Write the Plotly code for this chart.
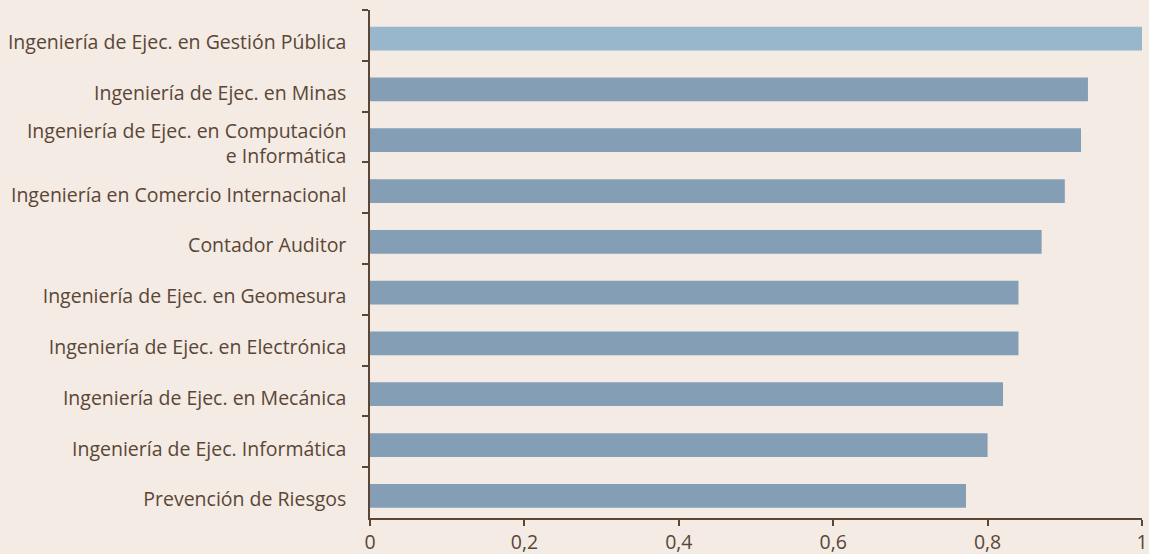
import plotly.graph_objects as go

carreras = [
    'Ingeniería de Ejec. en Gestión Pública',
    'Ingeniería de Ejec. en Minas',
    'Ingeniería de Ejec. en Computación<br>e Informática',
    'Ingeniería en Comercio Internacional',
    'Contador Auditor',
    'Ingeniería de Ejec. en Geomesura',
    'Ingeniería de Ejec. en Electrónica',
    'Ingeniería de Ejec. en Mecánica',
    'Ingeniería de Ejec. Informática',
    'Prevención de Riesgos',
]
valores = [1.0, 0.93, 0.921, 0.90, 0.870, 0.840, 0.840, 0.820, 0.800, 0.772]

# top bar highlighted
colores = ['#98b6cc'] + ['#849fb5'] * (len(valores) - 1)

TEXT = '#5b4636'
BG = '#f3ebe4'

# bars sit a little below the middle of each band in the original
fig = go.Figure(go.Bar(
    x=valores,
    y=carreras,
    orientation='h',
    width=0.467,
    offset=-0.17,
    marker=dict(color=colores, line=dict(width=0)),
    hoverinfo='x+y',
))

fig.update_layout(
    width=1149,
    height=554,
    paper_bgcolor=BG,
    plot_bgcolor=BG,
    margin=dict(l=370, r=7, t=10, b=36, autoexpand=False),
    separators=',.',
    showlegend=False,
    font=dict(family='Open Sans', size=19.5, color=TEXT),
)

fig.update_xaxes(
    range=[0, 1],
    tickvals=[0, 0.2, 0.4, 0.6, 0.8, 1],
    showgrid=False,
    zeroline=False,
    showline=True,
    linecolor=TEXT,
    linewidth=1.5,
    ticks='outside',
    ticklen=6,
    tickcolor=TEXT,
    tickwidth=1.5,
    tickfont=dict(size=19.5, color=TEXT),
    ticklabeloverflow='allow',
)

fig.update_yaxes(
    autorange='reversed',
    showgrid=False,
    zeroline=False,
    showline=True,
    linecolor=TEXT,
    linewidth=1.5,
    ticks='outside',
    tickson='boundaries',
    ticklen=6,
    tickcolor=TEXT,
    tickwidth=1.5,
    tickfont=dict(size=19.5, color=TEXT),
    ticklabelstandoff=18,
    ticklabelshift=-7,
)

# drop the default 8px body margin so the figure fills the window
fig.write_html('out.html', config={'displayModeBar': False},
               post_script="document.body.style.margin='0';")
